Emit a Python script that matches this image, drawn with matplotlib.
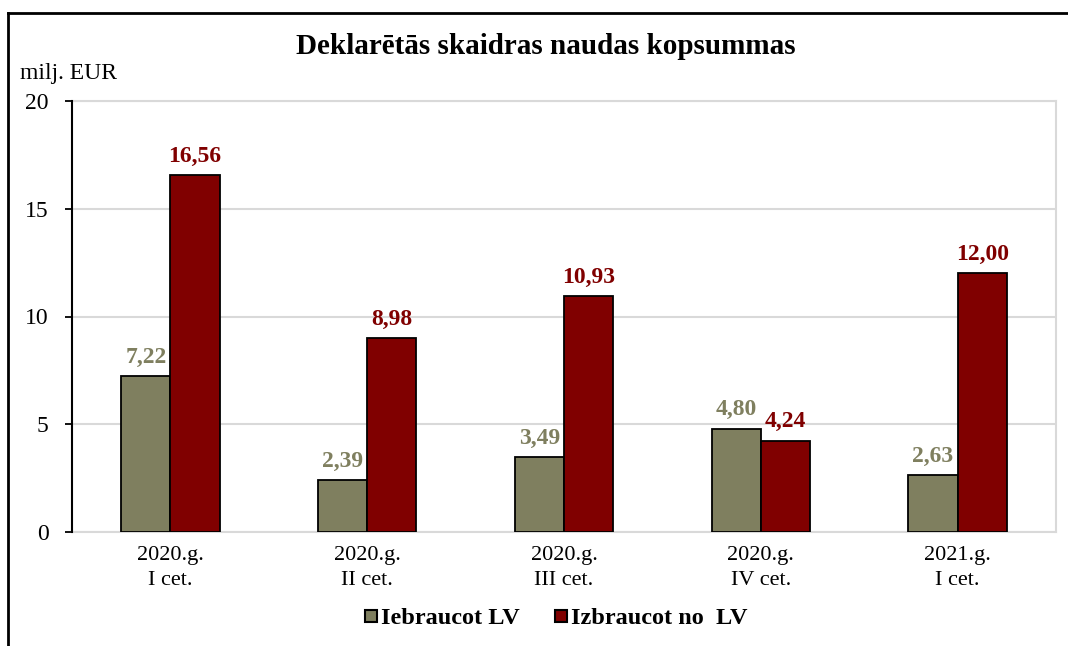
import matplotlib.pyplot as plt
import numpy as np
from matplotlib.lines import Line2D

categories = ["2020.g.\nI cet.", "2020.g.\nII cet.", "2020.g.\nIII cet.",
              "2020.g.\nIV cet.", "2021.g.\nI cet."]
iebraucot = [7.22, 2.39, 3.49, 4.80, 2.63]
izbraucot = [16.56, 8.98, 10.93, 4.24, 12.00]
series_names = ["Iebraucot LV", "Izbraucot no  LV"]

olive = "#7f7f5f"
dark_red = "#800000"

plt.rcParams["font.family"] = ["Liberation Serif", "DejaVu Serif"]

fig = plt.figure(figsize=(10.68, 6.46), dpi=100)
ax = fig.add_axes([72 / 1068, 1 - 532 / 646, 984 / 1068, 431 / 646])

x = np.arange(len(categories))
w = 0.25
b1 = ax.bar(x - w / 2, iebraucot, w, color=olive, edgecolor="black", linewidth=1.3, zorder=3)
b2 = ax.bar(x + w / 2, izbraucot, w, color=dark_red, edgecolor="black", linewidth=1.3, zorder=3)

for rect, v in zip(b1, iebraucot):
    ax.annotate(f"{v:.2f}".replace(".", ","), (rect.get_x() + rect.get_width() / 2, v),
                xytext=(0, 6), textcoords="offset points", ha="center", va="bottom",
                fontsize=17, fontweight="bold", color=olive)
for rect, v in zip(b2, izbraucot):
    ax.annotate(f"{v:.2f}".replace(".", ","), (rect.get_x() + rect.get_width() / 2, v),
                xytext=(0, 6), textcoords="offset points", ha="center", va="bottom",
                fontsize=17, fontweight="bold", color=dark_red)

ax.set_xlim(-0.5, len(categories) - 0.5)
ax.set_ylim(0, 20)
ax.set_yticks([0, 5, 10, 15, 20])
ax.set_xticks(x)
ax.set_xticklabels(categories, fontsize=16, linespacing=1.45)
ax.tick_params(axis="x", length=0, pad=10)
ax.tick_params(axis="y", direction="out", length=5, width=1.3, labelsize=17, pad=12)
ax.yaxis.grid(True, color="#d9d9d9", linewidth=1.5, zorder=0)
for s in ["top", "right", "bottom"]:
    ax.spines[s].set_color("#d9d9d9")
    ax.spines[s].set_linewidth(1.5)
ax.spines["left"].set_color("black")
ax.spines["left"].set_linewidth(1.5)
ax.spines["left"].set_zorder(4)

fig.text(546 / 1068, 1 - 46 / 646, "Deklarētās skaidras naudas kopsummas",
         ha="center", va="center", fontsize=21, fontweight="bold")
fig.text(20 / 1068, 1 - 74 / 646, "milj. EUR", ha="left", va="center", fontsize=17)

handles = [Line2D([], [], marker="s", linestyle="", markersize=9, markerfacecolor=c,
                  markeredgecolor="black", markeredgewidth=1.5) for c in (olive, dark_red)]
fig.legend(handles, series_names, loc="center", bbox_to_anchor=(552 / 1068, 1 - 618 / 646),
           ncol=2, frameon=False, prop={"weight": "bold", "size": 17.5},
           handletextpad=-0.2, columnspacing=1.1, handlelength=1.2)

# outer frame
fig.add_artist(Line2D([8 / 1068, 8 / 1068], [0, 1 - 13 / 646], color="black", linewidth=2,
                      transform=fig.transFigure))
fig.add_artist(Line2D([8 / 1068, 1], [1 - 13 / 646, 1 - 13 / 646], color="black", linewidth=2,
                      transform=fig.transFigure))

fig.savefig("out.png", dpi=100)
